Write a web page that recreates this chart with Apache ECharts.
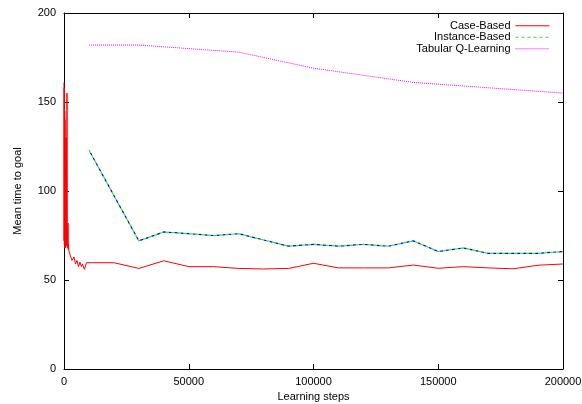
<!DOCTYPE html>
<html>
<head>
<meta charset="utf-8">
<script src="https://cdn.jsdelivr.net/npm/echarts@6/dist/echarts.min.js"></script>
<style>
  html, body { margin: 0; padding: 0; background: #fff; }
  #chart { width: 582px; height: 404px; }
</style>
</head>
<body>
<div id="chart"></div>
<script>
  // values
  var caseSteps = [0, 50, 100, 150, 200, 250, 300, 350, 400, 450, 500, 550, 600, 650, 700, 750, 800, 850, 900, 950,
    1000, 1100, 1200, 1300, 1400, 1500, 1600, 1700, 1800,
    2000, 2800, 3200, 4000, 4600, 5200, 5800, 6400, 7000, 7400, 8200, 9000,
    10000, 20000, 30000, 40000, 50000, 60000, 70000, 80000, 90000, 100000,
    110000, 120000, 130000, 140000, 150000, 160000, 170000, 180000, 190000, 200000];
  var caseTime = [161, 72, 158, 70, 150, 75, 145, 68, 140, 72, 130, 70, 120, 68, 110, 72, 93, 70, 125, 69,
    130, 70, 155, 72, 80, 68, 82, 67, 70,
    66, 66.5, 61, 63, 59, 61, 57.5, 60, 57.5, 59, 56, 59.7,
    59.7, 59.7, 56.5, 60.8, 57.5, 57.5, 56.5, 56.2, 56.5, 59.4,
    56.8, 56.8, 56.8, 58.4, 56.6, 57.5, 56.8, 56.3, 58.3, 59];

  var instSteps = [10000, 30000, 40000, 50000, 60000, 70000, 80000, 90000, 100000,
    110000, 120000, 130000, 140000, 150000, 160000, 170000, 180000, 190000, 200000];
  var instTime = [123, 72, 77, 76, 75, 76, 72.5, 69, 70,
    69, 70, 69, 72, 66, 68, 65, 65, 65, 66];

  var tabSteps = [10000, 20000, 30000, 40000, 50000, 60000, 70000, 80000, 90000, 100000,
    110000, 120000, 130000, 140000, 150000, 160000, 170000, 180000, 190000, 200000];
  var tabTime = [182, 182, 182, 181, 180, 179, 178, 175, 172, 169,
    167, 165, 163, 161, 160, 159, 158, 157, 156, 155];

  var xTicks = { min: 0, max: 200000, interval: 50000 };
  var yTicks = { min: 0, max: 200, interval: 50 };

  function zip(xs, ys) {
    return xs.map(function (x, i) { return [x, ys[i]]; });
  }

  var font = 'Liberation Sans';
  var frame = { show: true, onZero: false, lineStyle: { color: '#000', width: 1 } };
  var tick = { show: true, inside: true, length: 5, lineStyle: { color: '#000' } };

  var chart = echarts.init(document.getElementById('chart'));
  chart.setOption({
    animation: false,
    textStyle: { fontFamily: font },
    grid: { left: 64, right: 19, top: 13, bottom: 35, containLabel: false, outerBoundsMode: 'none' },
    legend: {
      orient: 'vertical',
      align: 'right',
      right: 32,
      top: 20,
      padding: 0,
      itemWidth: 34,
      itemHeight: 9,
      itemGap: 0,
      itemStyle: { opacity: 0 },
      lineStyle: { width: 1 },
      textStyle: { fontFamily: font, fontSize: 11, lineHeight: 11.5, color: '#000' },
      data: ['Case-Based', 'Instance-Based', 'Tabular Q-Learning']
    },
    xAxis: [{
      type: 'value',
      min: xTicks.min, max: xTicks.max, interval: xTicks.interval,
      name: 'Learning steps',
      nameLocation: 'middle',
      nameGap: 22,
      nameTextStyle: { fontFamily: font, fontSize: 11, color: '#000' },
      axisLine: frame,
      axisTick: tick,
      splitLine: { show: false },
      axisLabel: { fontFamily: font, fontSize: 11, color: '#000', margin: 7,
        formatter: function (v) { return String(v); } }
    }, {
      type: 'value',
      position: 'top',
      min: xTicks.min, max: xTicks.max, interval: xTicks.interval,
      axisLine: frame,
      axisTick: tick,
      splitLine: { show: false },
      axisLabel: { show: false }
    }],
    yAxis: [{
      type: 'value',
      min: yTicks.min, max: yTicks.max, interval: yTicks.interval,
      name: 'Mean time to goal',
      nameLocation: 'middle',
      nameGap: 41,
      nameTextStyle: { fontFamily: font, fontSize: 11, color: '#000' },
      axisLine: frame,
      axisTick: tick,
      splitLine: { show: false },
      axisLabel: { fontFamily: font, fontSize: 11, color: '#000', margin: 8 }
    }, {
      type: 'value',
      position: 'right',
      min: yTicks.min, max: yTicks.max, interval: yTicks.interval,
      axisLine: frame,
      axisTick: tick,
      splitLine: { show: false },
      axisLabel: { show: false }
    }],
    series: [
      {
        name: 'Case-Based',
        type: 'line',
        symbol: 'none',
        data: zip(caseSteps, caseTime),
        lineStyle: { color: '#ff0000', width: 1 },
        itemStyle: { color: '#ff0000' },
        z: 4
      },
      {
        // blue dashes showing between the green ones
        name: 'instBlue',
        type: 'line',
        symbol: 'none',
        data: zip(instSteps, instTime),
        lineStyle: { color: '#0000ff', width: 1.2, type: [3, 3], dashOffset: 3 },
        itemStyle: { color: '#0000ff' },
        z: 2
      },
      {
        name: 'Instance-Based',
        type: 'line',
        symbol: 'none',
        data: zip(instSteps, instTime),
        lineStyle: { color: '#22ee22', width: 1.2, type: [3, 3] },
        itemStyle: { color: '#22ee22' },
        z: 3
      },
      {
        name: 'Tabular Q-Learning',
        type: 'line',
        symbol: 'none',
        data: zip(tabSteps, tabTime),
        lineStyle: { color: '#ff00ff', width: 1, type: [1, 1] },
        itemStyle: { color: '#ff00ff' },
        z: 2
      }
    ]
  });
</script>
</body>
</html>
